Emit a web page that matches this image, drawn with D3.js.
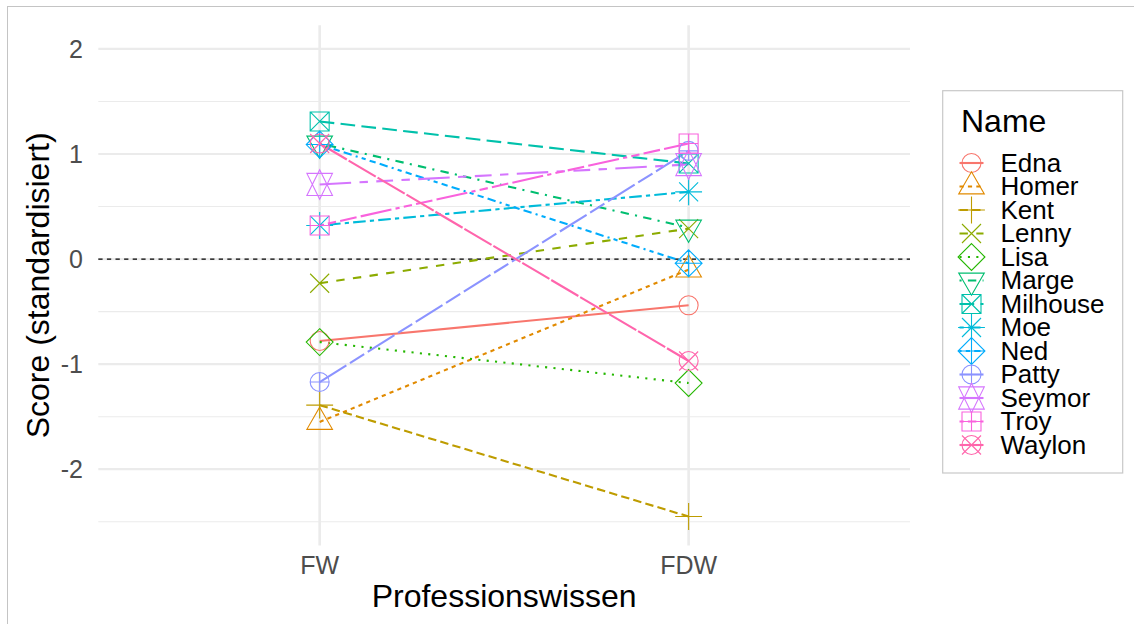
<!DOCTYPE html>
<html>
<head>
<meta charset="utf-8">
<script src="https://cdn.jsdelivr.net/npm/d3@7"></script>
<style>
  body { margin: 0; background: #fff; }
  text { font-family: "Liberation Sans", Arial, sans-serif; }
</style>
</head>
<body>
<svg id="chart"></svg>
<script>
// data
const names = ["Edna", "Homer", "Kent", "Lenny", "Lisa", "Marge", "Milhouse",
               "Moe", "Ned", "Patty", "Seymor", "Troy", "Waylon"];
const conditions = ["FW", "FDW"];
const scoreFW  = [-0.78, -1.55, -1.39, -0.23, -0.79, 1.10, 1.31, 0.32, 1.09, -1.17, 0.71, 0.32, 1.10];
const scoreFDW = [-0.44, -0.10, -2.45, 0.29, -1.18, 0.30, 0.91, 0.64, -0.04, 1.03, 0.90, 1.10, -0.97];
const colors = ["#F8766D", "#E18A00", "#BE9C00", "#8CAB00", "#24B700", "#00BE70", "#00C1AB",
                "#00BBDA", "#00ACFC", "#8B93FF", "#D575FE", "#F962DD", "#FF65AC"];
const linetypes = ["", "22", "42", "44", "13", "1343", "73", "2262", "12223242",
                   "F282", "F4448444", "224282F2", "F1"];
const yTicks = [-2, -1, 0, 1, 2];
const yMinor = [-2.5, -1.5, -0.5, 0.5, 1.5];

const width = 1134, height = 624;
const panel = { left: 98.3, right: 910, top: 25.3, bottom: 545.4 };
const lw = 2.1;

const svg = d3.select("#chart").attr("width", width).attr("height", height);

// outer border
svg.append("rect")
    .attr("x", 7.5).attr("y", 6.5)
    .attr("width", 1135).attr("height", 625)
    .attr("fill", "none").attr("stroke", "#c4c4c4").attr("stroke-width", 1);

const x = d3.scalePoint().domain(conditions)
    .range([panel.left, panel.right]).padding(0.6);
const y = d3.scaleLinear().domain([-2.725, 2.225])
    .range([panel.bottom, panel.top]);

// grid
const grid = svg.append("g");
grid.selectAll("line.minor").data(yMinor).enter().append("line")
    .attr("x1", panel.left).attr("x2", panel.right)
    .attr("y1", d => y(d)).attr("y2", d => y(d))
    .attr("stroke", "#ebebeb").attr("stroke-width", 1.1);
grid.selectAll("line.major").data(yTicks).enter().append("line")
    .attr("x1", panel.left).attr("x2", panel.right)
    .attr("y1", d => y(d)).attr("y2", d => y(d))
    .attr("stroke", "#ebebeb").attr("stroke-width", 2.2);
grid.selectAll("line.vmajor").data(conditions).enter().append("line")
    .attr("x1", d => x(d)).attr("x2", d => x(d))
    .attr("y1", panel.top).attr("y2", panel.bottom)
    .attr("stroke", "#ebebeb").attr("stroke-width", 2.6);

// zero reference
svg.append("line")
    .attr("x1", panel.left).attr("x2", panel.right)
    .attr("y1", y(0)).attr("y2", y(0))
    .attr("stroke", "#000").attr("stroke-width", 1.1)
    .attr("stroke-dasharray", "4.3,4.3");

// ggplot style hex dash patterns, in line widths
function dash(code) {
    if (!code) return null;
    return code.split("").map(c => parseInt(c, 16) * lw).join(",");
}

const people = names.map((n, i) => ({
    name: n, color: colors[i], lt: linetypes[i], shape: i + 1,
    values: [scoreFW[i], scoreFDW[i]]
}));

const line = d3.line().x((d, j) => x(conditions[j])).y(d => y(d));

svg.append("g").selectAll("path")
    .data(people).enter().append("path")
    .attr("d", d => line(d.values))
    .attr("fill", "none")
    .attr("stroke", d => d.color)
    .attr("stroke-width", lw)
    .attr("stroke-dasharray", d => dash(d.lt));

// R pch symbols 1..13
const r0 = 9.5;
const S2 = Math.SQRT2;
const TRC0 = Math.sqrt(4 * Math.PI / (3 * Math.sqrt(3)));
const TRC1 = TRC0 * Math.sqrt(3) / 2, TRC2 = TRC0 / 2;
function circ(r) {
    return `M${-r},0A${r},${r} 0 1,0 ${r},0A${r},${r} 0 1,0 ${-r},0Z`;
}
function plus(h) { return `M${-h},0L${h},0M0,${-h}L0,${h}`; }
function cross(h) { return `M${-h},${-h}L${h},${h}M${-h},${h}L${h},${-h}`; }
function sq(h) { return `M${-h},${-h}L${h},${-h}L${h},${h}L${-h},${h}Z`; }
function diamond(h) { return `M0,${-h}L${h},0L0,${h}L${-h},0Z`; }
function tri(up, r, xc, yc) {
    const s = up ? 1 : -1;
    return `M0,${-s * r}L${xc},${s * yc}L${-xc},${s * yc}Z`;
}
function symbol(pch) {
    switch (pch) {
        case 1: return circ(r0);
        case 2: return tri(true, TRC0 * r0, TRC1 * r0, TRC2 * r0);
        case 3: return plus(S2 * r0);
        case 4: return cross(r0);
        case 5: return diamond(S2 * r0);
        case 6: return tri(false, TRC0 * r0, TRC1 * r0, TRC2 * r0);
        case 7: return sq(r0) + cross(r0);
        case 8: return cross(r0) + plus(S2 * r0);
        case 9: return diamond(S2 * r0) + plus(S2 * r0);
        case 10: return circ(r0) + plus(r0);
        case 11: {
            const r = TRC0 * r0, yc = 0.5 * (TRC2 * r0 + r), xc = TRC1 * r0;
            return tri(false, r, xc, yc) + tri(true, r, xc, yc);
        }
        case 12: return sq(r0) + plus(r0);
        case 13: return circ(r0) + cross(r0);
    }
}

const pts = [];
people.forEach(p => p.values.forEach((v, j) => pts.push({ p: p, cond: conditions[j], v: v })));
svg.append("g").selectAll("path")
    .data(pts).enter().append("path")
    .attr("transform", d => `translate(${x(d.cond)},${y(d.v)})`)
    .attr("d", d => symbol(d.p.shape))
    .attr("fill", "none")
    .attr("stroke", d => d.p.color)
    .attr("stroke-width", 1.1);

// axes labels
svg.append("g").selectAll("text")
    .data(yTicks).enter().append("text")
    .attr("x", 83).attr("y", d => y(d) + 9)
    .attr("text-anchor", "end")
    .attr("font-size", 25).attr("fill", "#4d4d4d")
    .text(d => d);

svg.append("g").selectAll("text")
    .data(conditions).enter().append("text")
    .attr("x", d => x(d)).attr("y", 573.5)
    .attr("text-anchor", "middle")
    .attr("font-size", 25).attr("fill", "#4d4d4d")
    .text(d => d);

svg.append("text")
    .attr("x", (panel.left + panel.right) / 2).attr("y", 607)
    .attr("text-anchor", "middle").attr("font-size", 32)
    .text("Professionswissen");

svg.append("text")
    .attr("transform", `translate(49,${(panel.top + panel.bottom) / 2}) rotate(-90)`)
    .attr("text-anchor", "middle").attr("font-size", 32)
    .text("Score (standardisiert)");

// legend
const legend = svg.append("g");
legend.append("rect")
    .attr("x", 942.7).attr("y", 90.7)
    .attr("width", 180).attr("height", 382.3)
    .attr("fill", "#fff").attr("stroke", "#c8c8c8").attr("stroke-width", 1.2);
legend.append("text")
    .attr("x", 961).attr("y", 131.5)
    .attr("font-size", 32).text("Name");

const ly = d3.scalePoint().domain(names).range([163, 445]);
const keys = legend.selectAll("g.key").data(people).enter().append("g")
    .attr("transform", d => `translate(971.5,${ly(d.name)})`);
keys.append("line")
    .attr("x1", -12).attr("x2", 12)
    .attr("stroke", d => d.color).attr("stroke-width", lw)
    .attr("stroke-dasharray", d => dash(d.lt));
keys.append("path")
    .attr("d", d => symbol(d.shape))
    .attr("fill", "none").attr("stroke", d => d.color).attr("stroke-width", 1.1);
keys.append("text")
    .attr("x", 29).attr("y", 8.5)
    .attr("font-size", 26)
    .text(d => d.name);
</script>
</body>
</html>
